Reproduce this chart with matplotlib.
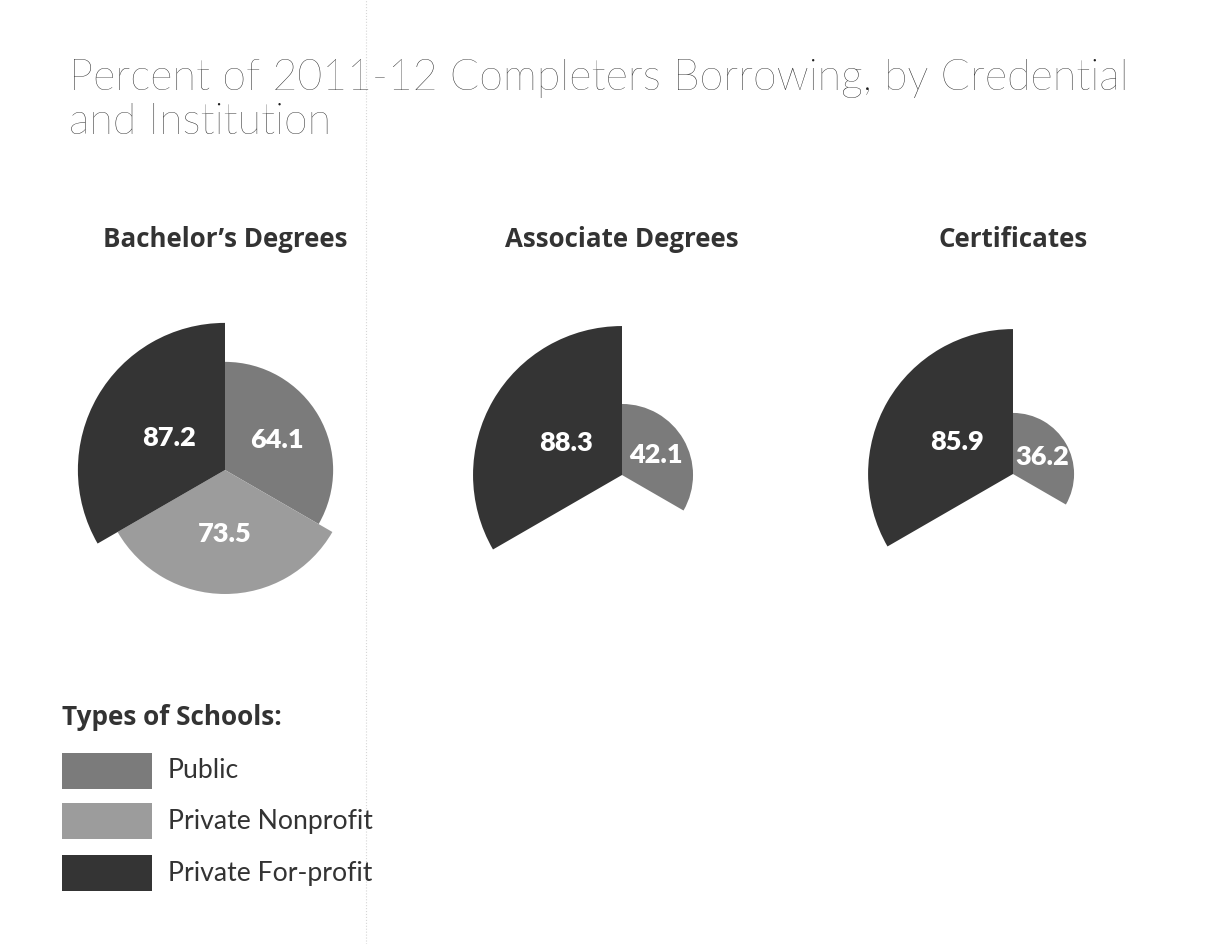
import numpy as np
import matplotlib
matplotlib.use('Agg')
import matplotlib.pyplot as plt
from matplotlib.patches import Rectangle
from matplotlib.lines import Line2D

plt.rcParams['font.family'] = ['Lato', 'DejaVu Sans']
BOLD = ['Open Sans', 'DejaVu Sans']

# borrowing rates, one list per credential (None = no bar)
school_types = ['Public', 'Private Nonprofit', 'Private For-profit']
credentials = ['Bachelor’s Degrees', 'Associate Degrees', 'Certificates']
bachelors = [64.1, 73.5, 87.2]
associates = [42.1, None, 88.3]
certificates = [36.2, None, 85.9]
series = [bachelors, associates, certificates]

colors = ['#7b7b7b', '#9c9c9c', '#343434']

W, H = 1230, 944
fig = plt.figure(figsize=(W / 100, H / 100), dpi=100)
fig.patch.set_facecolor('white')


def fx(x):
    return x / W


def fy(y):
    return 1 - y / H


# faint divider
fig.add_artist(Line2D([fx(366), fx(366)], [0, 1], color='#d6d6d6', lw=0.8, ls=':'))

fig.text(fx(69), fy(90), 'Percent of 2011-12 Completers Borrowing, by Credential',
         fontsize=31, fontweight='light', color='#1e1e1e', va='baseline')
fig.text(fx(69), fy(134), 'and Institution',
         fontsize=31, fontweight='light', color='#1e1e1e', va='baseline')

centers = [(225, 470), (622, 475), (1013, 474)]
rmax = 100
px_per_unit = 1.687
R = rmax * px_per_unit
width = 2 * np.pi / 3
thetas = np.array([60, 180, 300]) * np.pi / 180

for (cx, cy), name, vals in zip(centers, credentials, series):
    fig.text(fx(cx), fy(247), name, fontsize=18.6, fontweight='bold', family=BOLD,
             color='#333333', ha='center', va='baseline')
    ax = fig.add_axes([fx(cx - R), fy(cy + R), 2 * R / W, 2 * R / H],
                      projection='polar')
    ax.set_theta_zero_location('N')
    ax.set_theta_direction(-1)
    ax.set_ylim(0, rmax)
    ax.axis('off')
    for th, v, c in zip(thetas, vals, colors):
        if v is None:
            continue
        ax.bar(th, v, width=width, bottom=0, color=c, edgecolor='none')
    for th, v in zip(thetas, vals):
        if v is None:
            continue
        ax.text(th, min(0.55 * v, 38), f'{v:.1f}', color='white', fontsize=19.5,
                fontweight='heavy', ha='center', va='center')

# legend
fig.text(fx(62), fy(725), 'Types of Schools:', fontsize=18.8, fontweight='bold',
         family=BOLD, color='#333333', va='baseline')
box_tops = [753, 803, 855]
for top, c, lab in zip(box_tops, colors, school_types):
    fig.add_artist(Rectangle((fx(62), fy(top + 36)), 90 / W, 36 / H,
                             transform=fig.transFigure, color=c, lw=0))
    fig.text(fx(168), fy(top + 18), lab, fontsize=19.2, color='#333333', va='center')

fig.savefig('out.png', dpi=100, facecolor='white')
